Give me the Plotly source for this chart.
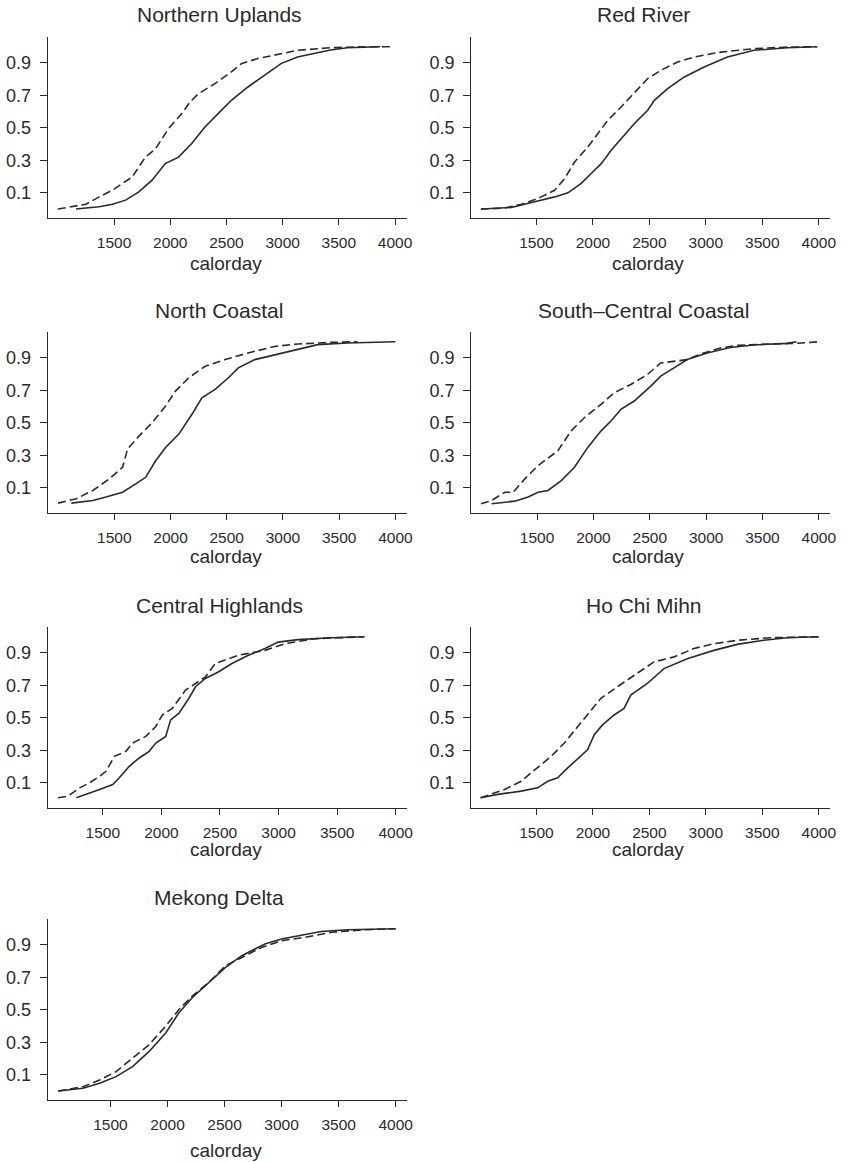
import plotly.graph_objects as go

# ---------------- data ----------------
regions = ["Northern Uplands", "Red River", "North Coastal", "South\u2013Central Coastal",
           "Central Highlands", "Ho Chi Mihn", "Mekong Delta"]
x_ticks = [1500, 2000, 2500, 3000, 3500, 4000]
y_ticks = [0.1, 0.3, 0.5, 0.7, 0.9]
y_tick_labels = ["0.1", "0.3", "0.5", "0.7", "0.9"]
x_title = "calorday"

# Northern Uplands
nu_solid_x = [1162, 1368, 1485, 1603, 1721, 1838, 1956, 2074, 2191, 2309, 2426, 2544, 2691, 2838, 2985, 3132, 3279, 3426, 3574, 3721, 3868]
nu_solid_y = [0.0, 0.014, 0.03, 0.055, 0.106, 0.178, 0.28, 0.32, 0.404, 0.506, 0.588, 0.67, 0.752, 0.824, 0.896, 0.937, 0.96, 0.98, 0.994, 0.998, 1.0]
nu_dash_x = [1000, 1250, 1368, 1485, 1662, 1779, 1868, 1985, 2103, 2176, 2250, 2397, 2544, 2632, 2779, 2985, 3132, 3426, 3721, 3956]
nu_dash_y = [0.0, 0.03, 0.075, 0.116, 0.198, 0.32, 0.37, 0.496, 0.588, 0.66, 0.71, 0.773, 0.845, 0.896, 0.927, 0.957, 0.978, 0.994, 1.0, 1.0]

# Red River
rr_solid_x = [1009, 1279, 1485, 1662, 1779, 1897, 1985, 2074, 2162, 2279, 2368, 2485, 2544, 2662, 2809, 2985, 3191, 3426, 3721, 3985]
rr_solid_y = [0.0, 0.01, 0.045, 0.075, 0.1, 0.158, 0.219, 0.28, 0.362, 0.455, 0.527, 0.609, 0.67, 0.742, 0.814, 0.875, 0.937, 0.978, 0.994, 1.0]
rr_dash_x = [1009, 1221, 1368, 1515, 1662, 1750, 1838, 1956, 2044, 2132, 2250, 2368, 2485, 2603, 2750, 2897, 3132, 3426, 3721, 3985]
rr_dash_y = [0.0, 0.006, 0.03, 0.065, 0.116, 0.188, 0.29, 0.383, 0.465, 0.547, 0.629, 0.72, 0.804, 0.855, 0.906, 0.937, 0.967, 0.988, 0.998, 1.0]

# North Coastal
nc_solid_x = [1118, 1309, 1426, 1574, 1691, 1779, 1868, 1956, 2074, 2191, 2279, 2397, 2515, 2603, 2750, 2926, 3132, 3309, 3574, 3868, 4000]
nc_solid_y = [0.006, 0.022, 0.043, 0.073, 0.124, 0.165, 0.267, 0.349, 0.431, 0.553, 0.655, 0.706, 0.778, 0.839, 0.89, 0.92, 0.951, 0.982, 0.992, 0.998, 1.0]
nc_dash_x = [1000, 1162, 1309, 1456, 1574, 1618, 1721, 1838, 1956, 2044, 2162, 2309, 2485, 2691, 2926, 3132, 3426, 3662]
nc_dash_y = [0.006, 0.033, 0.084, 0.155, 0.227, 0.339, 0.42, 0.502, 0.604, 0.696, 0.778, 0.849, 0.89, 0.931, 0.971, 0.986, 0.996, 1.0]

# South-Central Coastal
sc_solid_x = [1097, 1303, 1421, 1509, 1597, 1715, 1832, 1950, 2068, 2156, 2244, 2362, 2509, 2597, 2715, 2832, 3009, 3215, 3420, 3714, 3802]
sc_solid_y = [0.002, 0.018, 0.043, 0.073, 0.084, 0.145, 0.227, 0.349, 0.451, 0.512, 0.584, 0.635, 0.727, 0.788, 0.839, 0.89, 0.931, 0.965, 0.98, 0.99, 1.0]
sc_dash_x = [1003, 1097, 1215, 1288, 1391, 1509, 1685, 1803, 1921, 2068, 2185, 2332, 2479, 2597, 2832, 2979, 3126, 3273, 3567, 3802, 4000]
sc_dash_y = [0.002, 0.022, 0.073, 0.073, 0.155, 0.237, 0.329, 0.451, 0.533, 0.614, 0.686, 0.737, 0.798, 0.869, 0.89, 0.931, 0.961, 0.978, 0.986, 0.99, 1.0]

# Central Highlands
ch_solid_x = [1274, 1359, 1472, 1585, 1641, 1726, 1811, 1896, 1952, 2037, 2079, 2150, 2235, 2291, 2376, 2489, 2602, 2743, 2884, 2997, 3166, 3449, 3732]
ch_solid_y = [0.008, 0.029, 0.059, 0.09, 0.131, 0.202, 0.253, 0.294, 0.345, 0.386, 0.488, 0.529, 0.621, 0.692, 0.743, 0.784, 0.835, 0.886, 0.927, 0.967, 0.982, 0.994, 1.0]
ch_dash_x = [1119, 1203, 1302, 1387, 1472, 1528, 1599, 1698, 1754, 1867, 1952, 2008, 2093, 2206, 2291, 2376, 2460, 2545, 2658, 2884, 3054, 3308, 3590, 3732]
ch_dash_y = [0.008, 0.018, 0.069, 0.1, 0.141, 0.171, 0.263, 0.294, 0.345, 0.386, 0.447, 0.518, 0.559, 0.671, 0.712, 0.753, 0.835, 0.855, 0.886, 0.916, 0.957, 0.988, 0.998, 1.0]

# Ho Chi Mihn
hc_solid_x = [1006, 1159, 1365, 1512, 1600, 1688, 1777, 1894, 1953, 2012, 2085, 2188, 2276, 2335, 2482, 2629, 2835, 3071, 3277, 3512, 3718, 3997]
hc_solid_y = [0.008, 0.029, 0.049, 0.069, 0.11, 0.131, 0.192, 0.263, 0.304, 0.396, 0.457, 0.518, 0.559, 0.641, 0.712, 0.804, 0.865, 0.916, 0.953, 0.978, 0.994, 1.0]
hc_dash_x = [1006, 1218, 1365, 1512, 1630, 1747, 1865, 1982, 2071, 2218, 2394, 2541, 2718, 2894, 3071, 3277, 3571, 3997]
hc_dash_y = [0.008, 0.059, 0.11, 0.192, 0.263, 0.345, 0.447, 0.549, 0.621, 0.692, 0.773, 0.845, 0.876, 0.927, 0.957, 0.978, 0.994, 1.0]

# Mekong Delta
md_solid_x = [1042, 1259, 1404, 1549, 1694, 1839, 1984, 2100, 2216, 2361, 2506, 2651, 2854, 2999, 3144, 3347, 3579, 4000]
md_solid_y = [0.0, 0.017, 0.048, 0.089, 0.151, 0.244, 0.358, 0.482, 0.575, 0.668, 0.761, 0.834, 0.906, 0.937, 0.958, 0.983, 0.994, 1.0]
md_dash_x = [1042, 1259, 1404, 1549, 1694, 1839, 1984, 2100, 2216, 2361, 2506, 2651, 2825, 2999, 3202, 3434, 3724, 4000]
md_dash_y = [0.0, 0.027, 0.068, 0.12, 0.203, 0.286, 0.4, 0.503, 0.585, 0.668, 0.771, 0.823, 0.885, 0.926, 0.947, 0.978, 0.994, 1.0]

solid_x = [nu_solid_x, rr_solid_x, nc_solid_x, sc_solid_x, ch_solid_x, hc_solid_x, md_solid_x]
solid_y = [nu_solid_y, rr_solid_y, nc_solid_y, sc_solid_y, ch_solid_y, hc_solid_y, md_solid_y]
dash_x = [nu_dash_x, rr_dash_x, nc_dash_x, sc_dash_x, ch_dash_x, hc_dash_x, md_dash_x]
dash_y = [nu_dash_y, rr_dash_y, nc_dash_y, sc_dash_y, ch_dash_y, hc_dash_y, md_dash_y]

# ---------------- layout (pixels in the 852x1162 window) ----------------
W, H = 852, 1162
x_ranges = [[909, 4103], [922, 4100], [907, 4100], [915, 4100], [1029, 4093], [922, 4100], [949, 4096]]
y_range = [-0.055, 1.06]
col_left = [48, 475]
col_right = [410, 837]
row_top = [37, 332, 627, 919]
plot_h = 181
title_cx = [221, 649]
xlab_cx = [228, 653]
xlab_gap = [45, 43, 41, 50]


def px(v):
    return v / W


def py(v):
    return 1 - v / H


INK = "#2a2a2a"
FONT = "Liberation Sans, Arial, Helvetica, sans-serif"

fig = go.Figure()
layout = dict(
    width=W, height=H, margin=dict(l=0, r=0, t=0, b=0),
    paper_bgcolor="white", plot_bgcolor="white", showlegend=False,
    font=dict(family=FONT, color=INK),
)
annotations = []

for i, name in enumerate(regions):
    r, c = divmod(i, 2)
    n = "" if i == 0 else str(i + 1)
    ytop = row_top[r]
    common = dict(showgrid=False, zeroline=False, showline=True, linecolor=INK, linewidth=1,
                  ticks="outside", tickcolor=INK, tickwidth=1, mirror=False)
    layout["xaxis" + n] = dict(domain=[px(col_left[c]), px(col_right[c])], range=x_ranges[i],
                               anchor="y" + n, tickmode="array", tickvals=x_ticks,
                               ticktext=[str(v) for v in x_ticks], ticklen=6,
                               tickfont=dict(size=15.5, family=FONT, color=INK),
                               ticklabelstandoff=4, **common)
    layout["yaxis" + n] = dict(domain=[py(ytop + plot_h), py(ytop)], range=y_range, anchor="x" + n,
                               tickmode="array", tickvals=y_ticks, ticktext=y_tick_labels,
                               ticklen=7, tickfont=dict(size=18, family=FONT, color=INK),
                               ticklabelstandoff=5, **common)
    fig.add_trace(go.Scatter(x=dash_x[i], y=dash_y[i], mode="lines", xaxis="x" + n, yaxis="y" + n,
                             line=dict(color=INK, width=1.6, dash="8px,4px"), hoverinfo="skip"))
    fig.add_trace(go.Scatter(x=solid_x[i], y=solid_y[i], mode="lines", xaxis="x" + n, yaxis="y" + n,
                             line=dict(color=INK, width=1.6), hoverinfo="skip"))
    annotations.append(dict(text=name, x=px(title_cx[c]), y=py(ytop - 22),
                            xref="paper", yref="paper", xanchor="center", yanchor="middle",
                            showarrow=False, font=dict(size=21, family=FONT, color=INK)))
    annotations.append(dict(text=x_title, x=px(xlab_cx[c]), y=py(ytop + plot_h + xlab_gap[r]),
                            xref="paper", yref="paper", xanchor="center", yanchor="middle",
                            showarrow=False, font=dict(size=19, family=FONT, color=INK)))

layout["annotations"] = annotations
fig.update_layout(**layout)
# remove the browser's default 8px page margin so the figure fills the window exactly
fig.write_html("out.html", config={"displayModeBar": False},
               post_script="document.body.style.margin='0px';")
